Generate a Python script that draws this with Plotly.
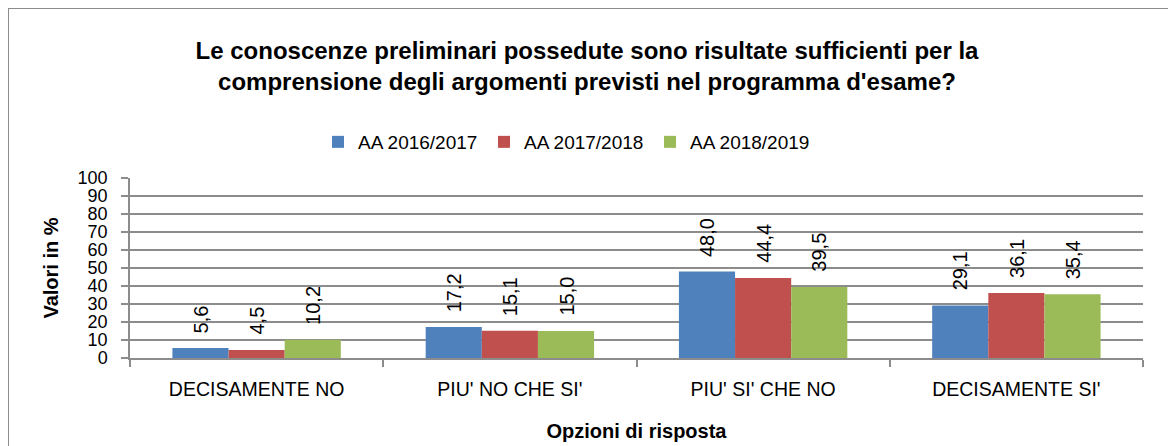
import plotly.graph_objects as go

categories = ["DECISAMENTE NO", "PIU' NO CHE SI'", "PIU' SI' CHE NO", "DECISAMENTE SI'"]
series_names = ["AA 2016/2017", "AA 2017/2018", "AA 2018/2019"]
aa_2016_2017 = [5.6, 17.2, 48.0, 29.1]
aa_2017_2018 = [4.5, 15.1, 44.4, 36.1]
aa_2018_2019 = [10.2, 15.0, 39.5, 35.4]
y_ticks = list(range(0, 101, 10))

series_values = [aa_2016_2017, aa_2017_2018, aa_2018_2019]
colors = ["#4F81BD", "#C0504D", "#9BBB59"]

FONT = "Liberation Sans"
W, H = 1176, 446
# figure coordinates (the page places the figure 8px from the top-left corner)
ML, MR, MT, MB = 122, 41, 170, 96
PW = W - ML - MR
PH = H - MT - MB
BARGAP = 0.335


def fmt(v):
    return f"{v:.1f}".replace(".", ",")


def px_x(px):
    return (px - ML) / PW


def px_y(py):
    return (H - MB - py) / PH


fig = go.Figure()
for name, vals, col in zip(series_names, series_values, colors):
    fig.add_trace(go.Bar(
        name=name, x=categories, y=vals,
        marker=dict(color=col, line=dict(width=0)),
    ))

# data labels, rotated, above each bar
w = (1 - BARGAP) / len(series_values)
annotations = []
for i, vals in enumerate(series_values):
    for j, v in enumerate(vals):
        annotations.append(dict(
            x=j + (i - 1) * w, y=v, xref="x", yref="y",
            text=fmt(v), showarrow=False, textangle=-90,
            yanchor="bottom", xanchor="center", yshift=13,
            font=dict(family=FONT, size=20, color="#000000"),
        ))

fig.update_layout(
    width=W, height=H,
    margin=dict(l=ML, r=MR, t=MT, b=MB, autoexpand=False),
    paper_bgcolor="white", plot_bgcolor="white",
    barmode="group", bargap=BARGAP, bargroupgap=0,
    font=dict(family=FONT, color="#000000"),
    title=dict(
        text="<b>Le conoscenze preliminari possedute sono risultate sufficienti per la<br>"
             "comprensione degli argomenti previsti nel programma d'esame?</b>",
        x=579 / W, xanchor="center", y=1 - 50.5 / H, yanchor="middle",
        font=dict(family=FONT, size=24, color="#000000"),
    ),
    legend=dict(
        orientation="h", x=px_x(310), xanchor="left", y=px_y(134), yanchor="middle",
        font=dict(family=FONT, size=19, color="#000000"),
        entrywidth=121, entrywidthmode="pixels", traceorder="normal",
        bgcolor="rgba(0,0,0,0)",
    ),
    xaxis=dict(
        type="category", showgrid=False, showline=True, linecolor="#8c8c8c", linewidth=1.5,
        ticks="outside", tickson="boundaries", ticklen=7, tickcolor="#8c8c8c", tickwidth=1.5,
        tickfont=dict(family=FONT, size=19.5, color="#000000"),
        ticklabelstandoff=13,
        title=dict(text="<b>Opzioni di risposta</b>", standoff=25,
                   font=dict(family=FONT, size=20, color="#000000")),
        fixedrange=True,
    ),
    yaxis=dict(
        range=[0, 100], tickvals=y_ticks, ticktext=[str(t) for t in y_ticks],
        showgrid=True, gridcolor="#8c8c8c", gridwidth=1.5,
        showline=True, linecolor="#8c8c8c", linewidth=1.5, zeroline=False,
        ticks="outside", ticklen=7, tickcolor="#8c8c8c", tickwidth=1.5,
        tickfont=dict(family=FONT, size=18, color="#000000"),
        ticklabelstandoff=10,
        title=dict(text="<b>Valori in %</b>", standoff=14,
                   font=dict(family=FONT, size=20, color="#000000")),
        fixedrange=True,
    ),
    annotations=annotations,
    shapes=[dict(
        type="rect", xref="paper", yref="paper",
        x0=px_x(0), x1=px_x(1200), y0=px_y(470), y1=px_y(0),
        line=dict(color="#8c8c8c", width=2), fillcolor="rgba(0,0,0,0)", layer="below",
    )],
    showlegend=True,
)

fig.write_html("out.html")
